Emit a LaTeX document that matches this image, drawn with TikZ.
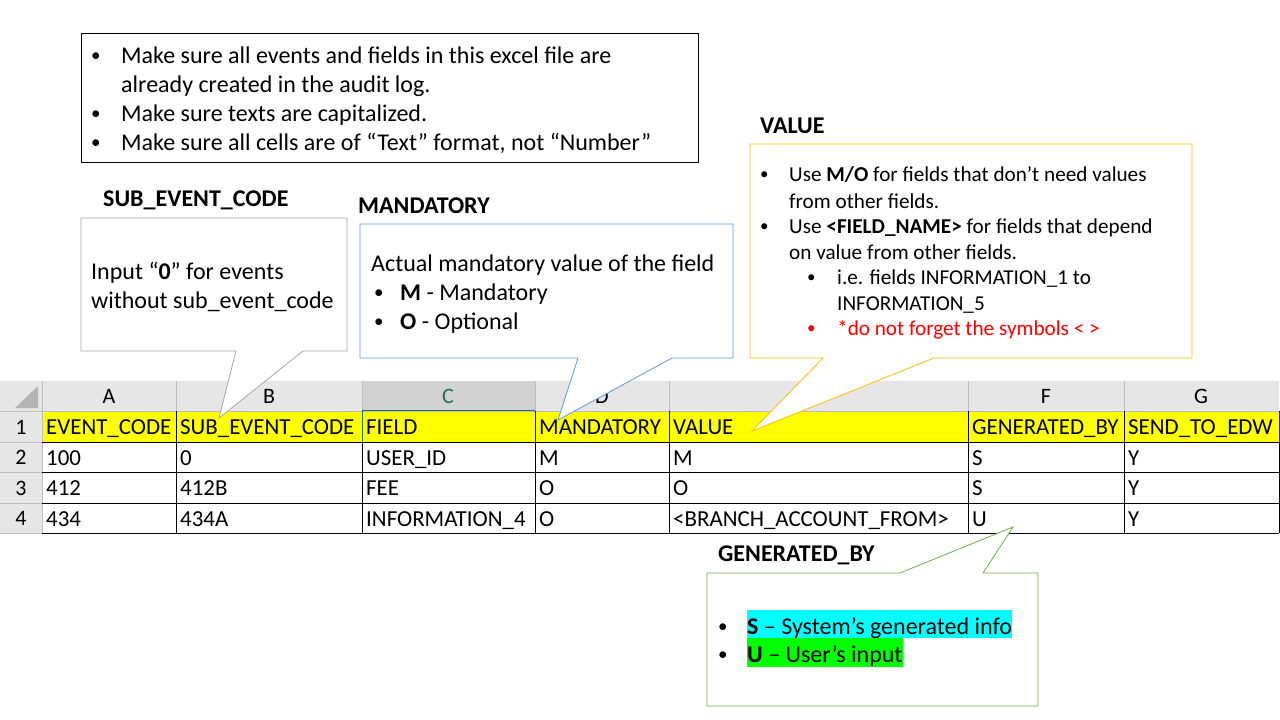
\documentclass[tikz,border=0pt]{standalone}
\usepackage{fontspec}
\setmainfont{Carlito}
\definecolor{hdrgray}{HTML}{E6E6E6}
\definecolor{hdrsel}{HTML}{D2D2D2}
\definecolor{gridgray}{HTML}{BFBFBF}
\definecolor{xlgreen}{HTML}{217346}
\definecolor{cornergray}{HTML}{B4B4B4}
\definecolor{cellyellow}{HTML}{FFFF00}
\definecolor{subgray}{HTML}{A6A6A6}
\definecolor{mandblue}{HTML}{5B9BD5}
\definecolor{valorange}{HTML}{FFC000}
\definecolor{gengreen}{HTML}{70AD47}
\definecolor{hlcyan}{HTML}{00FFFF}
\definecolor{hlgreen}{HTML}{00FF00}
\definecolor{redtext}{HTML}{FF0000}
\tikzset{
  cell/.style={anchor=base west, inner sep=0pt, font=\fontsize{22.9}{26}\selectfont},
  colhdr/.style={anchor=center, inner sep=0pt, font=\fontsize{22}{26}\selectfont},
  rownum/.style={anchor=center, inner sep=0pt, font=\fontsize{22}{26}\selectfont},
  txt/.style={anchor=base west, inner sep=0pt, font=\fontsize{24}{28}\selectfont},
  vtxt/.style={anchor=base west, inner sep=0pt, font=\fontsize{21.2}{25}\selectfont},
  bul/.style={anchor=base west, inner sep=0pt, font=\fontsize{19}{22}\selectfont},
  vbul/.style={anchor=base west, inner sep=0pt, font=\fontsize{17}{20}\selectfont},
  lbl/.style={anchor=base west, inner sep=0pt, font=\fontsize{24}{28}\selectfont\bfseries},
  callout/.style={fill=white, line width=0.8pt, line join=miter},
}
\begin{document}
\begin{tikzpicture}[x=1pt,y=-1pt]
\useasboundingbox (0,0) rectangle (1280,720);
\fill[white] (0,0) rectangle (1280,720);

% ---------- spreadsheet ----------
\fill[hdrgray] (0,381) rectangle (1279,411);
\fill[hdrgray] (0,411) rectangle (42,533);
\fill[hdrsel] (362,381) rectangle (535,411);
\fill[cornergray] (15,408) -- (38,408) -- (38,386) -- cycle;
\fill[cellyellow] (42,411) rectangle (1279,442);
% header grid
\foreach \gx in {42,176,362,535,669,968,1124}
  \draw[gridgray, line width=0.8pt] (\gx,381) -- (\gx,411);
\draw[gridgray, line width=0.8pt] (0,411) -- (1279,411);
\foreach \gy in {442,472,503,533}
  \draw[gridgray, line width=0.8pt] (0,\gy) -- (42,\gy);
\draw[gridgray, line width=0.8pt] (42,411) -- (42,533);
\draw[xlgreen, line width=1.6pt] (362,410.5) -- (535,410.5);
% cell grid
\foreach \gy in {442,472,503,533}
  \draw[black, line width=1pt] (42,\gy) -- (1279,\gy);
\foreach \gx in {176,362,535,669,968,1124,1279}
  \draw[black, line width=1pt] (\gx,411) -- (\gx,533);
\draw[xlgreen, line width=1pt] (362,411) -- (362,442);

% column letters
\node[colhdr] (hA) at (109,396) {A};
\node[colhdr] (hB) at (269,396) {B};
\node[colhdr, text=xlgreen] (hC) at (448,396) {C};
\node[colhdr] (hD) at (602,396) {D};
\node[colhdr] (hF) at (1046,396) {F};
\node[colhdr] (hG) at (1201,396) {G};
% row numbers
\node[rownum] (r1) at (21,427) {1};
\node[rownum] (r2) at (21,457.5) {2};
\node[rownum] (r3) at (21,488) {3};
\node[rownum] (r4) at (21,518.5) {4};

% row 1
\node[cell] (a1) at (46,434.5) {EVENT\_CODE};
\node[cell] (b1) at (180,434.5) {SUB\_EVENT\_CODE};
\node[cell] (c1) at (366,434.5) {FIELD};
\node[cell] (d1) at (539,434.5) {MANDATORY};
\node[cell] (e1) at (673,434.5) {VALUE};
\node[cell] (f1) at (972,434.5) {GENERATED\_BY};
\node[cell] (g1) at (1128,434.5) {SEND\_TO\_EDW};
% row 2
\node[cell] (a2) at (46,465) {100};
\node[cell] (b2) at (180,465) {0};
\node[cell] (c2) at (366,465) {USER\_ID};
\node[cell] (d2) at (539,465) {M};
\node[cell] (e2) at (673,465) {M};
\node[cell] (f2) at (972,465) {S};
\node[cell] (g2) at (1128,465) {Y};
% row 3
\node[cell] (a3) at (46,495.5) {412};
\node[cell] (b3) at (180,495.5) {412B};
\node[cell] (c3) at (366,495.5) {FEE};
\node[cell] (d3) at (539,495.5) {O};
\node[cell] (e3) at (673,495.5) {O};
\node[cell] (f3) at (972,495.5) {S};
\node[cell] (g3) at (1128,495.5) {Y};
% row 4
\node[cell] (a4) at (46,526) {434};
\node[cell] (b4) at (180,526) {434A};
\node[cell] (c4) at (366,526) {INFORMATION\_4};
\node[cell] (d4) at (539,526) {O};
\node[cell] (e4) at (673,526) {<BRANCH\_ACCOUNT\_FROM>};
\node[cell] (f4) at (972,526) {U};
\node[cell] (g4) at (1128,526) {Y};

% ---------- top note box ----------
\draw[black, line width=1pt] (81,33) rectangle (698,162);
\node[bul] (tb1) at (91,61) {•};
\node[txt] (tt1) at (121,63) {Make sure all events and fields in this excel file are};
\node[txt] (tt1b) at (121,92) {already created in the audit log.};
\node[bul] (tb2) at (91,119) {•};
\node[txt] (tt2) at (121,121) {Make sure texts are capitalized.};
\node[bul] (tb3) at (91,148) {•};
\node[txt] (tt3) at (121,150) {Make sure all cells are of “Text” format, not “Number”};

% ---------- SUB_EVENT_CODE callout ----------
\node[lbl] (lsub) at (103,206) {SUB\_EVENT\_CODE};
\draw[callout, draw=subgray] (81,218) -- (347,218) -- (347,351) -- (303,351) -- (219,418) -- (236,351) -- (81,351) -- cycle;
\node[txt] (s1) at (91,279) {Input “\textbf{0}” for events};
\node[txt] (s2) at (91,308) {without sub\_event\_code};

% ---------- MANDATORY callout ----------
\node[lbl] (lmand) at (358,213) {MANDATORY};
\draw[callout, draw=mandblue] (360,224) -- (733,224) -- (733,358) -- (672,358) -- (558,420) -- (578,358) -- (360,358) -- cycle;
\node[txt] (m0) at (371,271) {Actual mandatory value of the field};
\node[bul] (mb1) at (374,298) {•};
\node[txt] (m1) at (400,300) {\textbf{M} - Mandatory};
\node[bul] (mb2) at (374,327) {•};
\node[txt] (m2) at (400,329) {\textbf{O} - Optional};

% ---------- VALUE callout ----------
\node[lbl] (lval) at (760,133) {VALUE};
\draw[callout, draw=valorange] (750,144) -- (1192,144) -- (1192,358) -- (934,358) -- (752,431) -- (823,358) -- (750,358) -- cycle;
\node[vbul] (vb1) at (760,179) {•};
\node[vtxt] (v1) at (789,181) {Use \textbf{M/O} for fields that don’t need values};
\node[vtxt] (v1b) at (789,208) {from other fields.};
\node[vbul] (vb2) at (760,231) {•};
\node[vtxt] (v2) at (789,233) {Use \textbf{<FIELD\_NAME>} for fields that depend};
\node[vtxt] (v2b) at (789,259) {on value from other fields.};
\node[vbul] (vb3) at (807,282) {•};
\node[vtxt] (v3) at (837,284) {i.e. fields INFORMATION\_1 to};
\node[vtxt] (v3b) at (837,310) {INFORMATION\_5};
\node[vbul, text=redtext] (vb4) at (807,333) {•};
\node[vtxt, text=redtext] (v4) at (837,335) {*do not forget the symbols < >};

% ---------- GENERATED_BY callout ----------
\node[lbl] (lgen) at (718,561) {GENERATED\_BY};
\draw[callout, draw=gengreen] (707,573) -- (900,573) -- (1013,527) -- (983,573) -- (1038,573) -- (1038,706) -- (707,706) -- cycle;
\node[bul] (gb1) at (718,632) {•};
\node[txt, fill=hlcyan, text height=24pt, text depth=4pt] (g1t) at (747,634) {\textbf{S} – System’s generated info};
\node[bul] (gb2) at (718,660) {•};
\node[txt, fill=hlgreen, text height=24pt, text depth=5pt] (g2t) at (747,662) {\textbf{U} – User’s input};
\end{tikzpicture}
\end{document}
